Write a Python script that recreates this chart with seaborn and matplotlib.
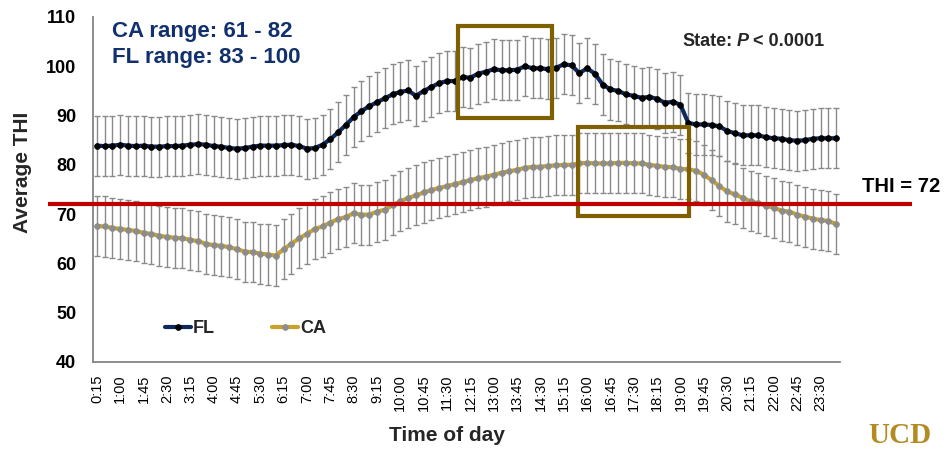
import matplotlib
matplotlib.use("Agg")
import matplotlib.pyplot as plt
import matplotlib.patches as mpatches
import matplotlib.transforms as mtrans
import pandas as pd
import seaborn as sns

# Quarter-hour time slots, 0:15 through 24:00
slots = [f"{m // 60}:{m % 60:02d}" for m in range(15, 24 * 60 + 1, 15)]

tick_labels = ["0:15", "1:00", "1:45", "2:30", "3:15", "4:00", "4:45", "5:30",
               "6:15", "7:00", "7:45", "8:30", "9:15", "10:00", "10:45", "11:30",
               "12:15", "13:00", "13:45", "14:30", "15:15", "16:00", "16:45", "17:30",
               "18:15", "19:00", "19:45", "20:30", "21:15", "22:00", "22:45", "23:30"]

# Average THI per slot
fl_thi = [83.9, 83.8, 83.9, 84.1, 83.9, 83.8, 83.9, 83.7, 83.7, 83.8, 83.8, 83.9,
          84.1, 84.2, 84.1, 83.8, 83.7, 83.4, 83.3, 83.4, 83.7, 83.9, 83.9, 83.9,
          84.0, 84.1, 83.8, 83.3, 83.4, 84.1, 85.2, 86.6, 88.1, 89.7, 90.9, 91.9,
          92.7, 93.5, 94.3, 94.8, 95.1, 94.0, 95.0, 95.8, 96.6, 97.0, 97.0, 97.8,
          97.7, 98.5, 98.9, 99.4, 99.2, 99.2, 99.3, 100.0, 99.6, 99.6, 99.4, 99.7,
          100.4, 100.2, 98.6, 99.6, 98.5, 96.3, 95.3, 95.0, 94.3, 94.0, 93.6, 93.8,
          93.4, 92.6, 92.8, 92.2, 88.5, 88.2, 88.2, 88.1, 87.8, 86.9, 86.4, 86.0,
          86.0, 86.0, 85.6, 85.4, 85.3, 85.0, 84.9, 85.0, 85.3, 85.4, 85.4, 85.4]

ca_thi = [67.6, 67.5, 67.2, 67.0, 66.8, 66.6, 66.2, 66.0, 65.6, 65.4, 65.2, 65.1,
          64.8, 64.5, 64.0, 63.7, 63.6, 63.3, 62.9, 62.4, 62.3, 62.0, 61.8, 61.6,
          62.9, 64.0, 65.1, 66.0, 67.0, 67.5, 68.3, 69.0, 69.4, 70.2, 69.9, 69.9,
          70.5, 70.9, 71.8, 72.6, 73.3, 73.8, 74.4, 74.9, 75.3, 75.7, 76.1, 76.5,
          76.9, 77.3, 77.6, 78.0, 78.4, 78.7, 79.0, 79.4, 79.6, 79.6, 79.8, 79.9,
          80.0, 80.0, 80.3, 80.4, 80.3, 80.3, 80.3, 80.4, 80.4, 80.3, 80.3, 80.0,
          79.8, 79.6, 79.5, 79.2, 79.1, 78.8, 78.0, 76.9, 75.7, 74.6, 74.0, 73.3,
          72.6, 72.2, 71.7, 71.3, 70.7, 70.5, 69.9, 69.5, 69.1, 68.8, 68.6, 68.0]

# Standard deviation shown as error bars
fl_sd = 6.1
ca_sd = 6.1

thi_threshold = 72

FL_COLOR = "#0e2a5c"
CA_COLOR = "#c9a227"
BOX_COLOR = "#7f6000"
RED = "#c00000"
NAVY_TEXT = "#12306b"

df = pd.DataFrame({
    "pos": list(range(len(slots))) * 2,
    "slot": slots * 2,
    "thi": fl_thi + ca_thi,
    "sd": [fl_sd] * len(fl_thi) + [ca_sd] * len(ca_thi),
    "state": ["FL"] * len(fl_thi) + ["CA"] * len(ca_thi),
})

sns.set_style("white")
plt.rcParams["font.family"] = ["Liberation Sans", "DejaVu Sans"]

W, H = 946, 453
fig = plt.figure(figsize=(W / 100, H / 100), dpi=100)
ax = fig.add_axes([93 / W, 1 - 362 / H, (840 - 93) / W, (362 - 17) / H])

# Error bars behind the lines
for state in ["FL", "CA"]:
    sub = df[df["state"] == state]
    ax.errorbar(sub["pos"], sub["thi"], yerr=sub["sd"], fmt="none",
                ecolor="#8a8a8a", elinewidth=1.0, capsize=2.3, capthick=1.0,
                zorder=1)

fl = df[df["state"] == "FL"]
ca = df[df["state"] == "CA"]
sns.lineplot(data=fl, x="pos", y="thi", ax=ax, color=FL_COLOR, linewidth=3.0,
             marker="o", markersize=4.2, markerfacecolor="black",
             markeredgecolor="black", markeredgewidth=0.5, zorder=3)
fl_line = ax.lines[-1]
sns.lineplot(data=ca, x="pos", y="thi", ax=ax, color=CA_COLOR, linewidth=3.0,
             marker="o", markersize=4.2, markerfacecolor="#8c8c8c",
             markeredgecolor="#8c8c8c", markeredgewidth=0.5, zorder=3)
ca_line = ax.lines[-1]

ax.set_xlim(-0.5, len(slots) - 0.5)
ax.set_ylim(40, 110)
ax.set_yticks(range(40, 111, 10))
ax.set_yticklabels([str(v) for v in range(40, 111, 10)], fontsize=13,
                   fontweight="bold")
tick_pos = [slots.index(t) for t in tick_labels]
ax.set_xticks(tick_pos)
ax.set_xticklabels(tick_labels, rotation=90, fontsize=10.5, va="top")
ax.tick_params(axis="both", length=0, colors="black")
ax.tick_params(axis="y", pad=12)
ax.tick_params(axis="x", pad=9)

for side in ["top", "right"]:
    ax.spines[side].set_visible(False)
for side in ["left", "bottom"]:
    ax.spines[side].set_color("#858585")
    ax.spines[side].set_linewidth(1.3)

ax.set_xlabel("Time of day", fontsize=15, fontweight="bold")
ax.xaxis.set_label_coords(0.474, -0.185)
ax.set_ylabel("Average THI", fontsize=15, fontweight="bold")
ax.yaxis.set_label_coords(-0.082, 0.55)

leg = ax.legend([fl_line, ca_line], ["FL", "CA"], loc="lower left",
                bbox_to_anchor=(0.074, 0.025), ncol=2, frameon=False,
                prop={"weight": "bold", "size": 13}, handlelength=1.45,
                handletextpad=0.1, columnspacing=3.2)

# Highlight boxes for the warmest hours
box_fl = mpatches.Rectangle((46.4, 89.5), 58.5 - 46.4, 108.2 - 89.5, fill=False,
                            edgecolor=BOX_COLOR, linewidth=3.0, zorder=6,
                            clip_on=False)
box_ca = mpatches.Rectangle((61.8, 69.6), 76.1 - 61.8, 87.7 - 69.6, fill=False,
                            edgecolor=BOX_COLOR, linewidth=3.0, zorder=6,
                            clip_on=False)
ax.add_patch(box_fl)
ax.add_patch(box_ca)

# Heat stress threshold line, running past the plot area
blend = mtrans.blended_transform_factory(ax.transAxes, ax.transData)
ax.plot([(48 - 93) / (840 - 93), (912 - 93) / (840 - 93)],
        [thi_threshold, thi_threshold], transform=blend, color=RED,
        linewidth=3.0, clip_on=False, zorder=7, solid_capstyle="butt")
fig.text(862 / W, 1 - 186 / H, f"THI = {thi_threshold}", fontsize=14.5,
         fontweight="bold", color="black", va="center", ha="left")

fig.text(112 / W, 1 - 32 / H, "CA range: 61 - 82", fontsize=16,
         fontweight="bold", color=NAVY_TEXT, va="center", ha="left")
fig.text(112 / W, 1 - 58 / H, "FL range: 83 - 100", fontsize=16,
         fontweight="bold", color=NAVY_TEXT, va="center", ha="left")

renderer = fig.canvas.get_renderer()
sy = 1 - 42 / H
t1 = fig.text(682 / W, sy, "State:", fontsize=13, fontweight="bold",
              va="center", ha="left")
x1 = t1.get_window_extent(renderer).x1 + 4.5
t2 = fig.text(x1 / W, sy, "P", fontsize=13, fontweight="bold", style="italic",
              va="center", ha="left")
x2 = t2.get_window_extent(renderer).x1 + 4.5
fig.text(x2 / W, sy, "< 0.0001", fontsize=13, fontweight="bold",
         va="center", ha="left")

fig.text(868 / W, 1 - 422 / H, "UCD", fontsize=21, fontweight="bold",
         family=["Liberation Serif", "DejaVu Serif"], color="#b38b22",
         va="top", ha="left")

fig.savefig("out.png", dpi=100)
